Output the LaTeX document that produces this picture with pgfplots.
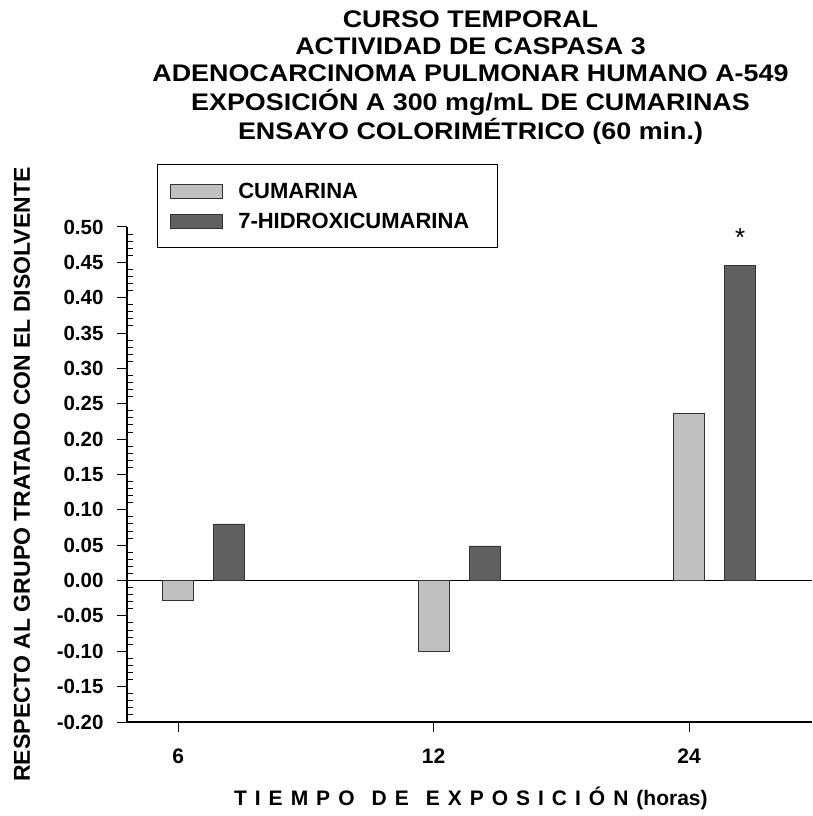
\documentclass[border=0pt]{standalone}
\usepackage{fontspec}
\setmainfont{Liberation Sans}
\usepackage{graphicx}
\usepackage{pgfplots}
\pgfplotsset{compat=1.18}
\definecolor{lgray}{RGB}{192,192,192}
\definecolor{dgray}{RGB}{96,96,96}
\newcommand{\ls}{\hspace{8bp}}
\newcommand{\ws}{\hspace{17bp}}
\begin{document}
\begin{tikzpicture}
\useasboundingbox (0bp,0bp) rectangle (813bp,816bp);
\node[anchor=north, inner sep=0pt] at (470.5bp,808bp) {\scalebox{1.12}[1]{\fontsize{24bp}{27bp}\selectfont\bfseries\begin{tabular}{@{}c@{}}CURSO TEMPORAL\\ACTIVIDAD DE CASPASA 3\\ADENOCARCINOMA PULMONAR HUMANO A-549\\EXPOSICIÓN A 300 mg/mL DE CUMARINAS\\ENSAYO COLORIMÉTRICO (60 min.)\end{tabular}}};
\begin{axis}[
  at={(127bp,94bp)}, anchor=south west,
  scale only axis, width=685bp, height=495bp,
  xmin=-0.2, xmax=2.481, ymin=-0.2, ymax=0.5,
  axis x line=bottom, axis y line=left,
  axis line style={-, line width=1.2bp},
  tick align=outside,
  xtick={0,1,2}, xticklabels={6,12,24},
  ytick={-0.2,-0.15,-0.1,-0.05,0,0.05,0.1,0.15,0.2,0.25,0.3,0.35,0.4,0.45,0.5},
  minor y tick num=4,
  major tick length=10bp, minor tick length=6bp,
  every minor y tick/.append style={xshift=6bp},
  tick style={black, line width=1bp},
  extra y ticks={0}, extra y tick labels={},
  extra y tick style={ymajorgrids=true, major grid style={black, line width=1bp}, major tick length=0pt},
  xticklabel style={font=\fontsize{21bp}{25bp}\selectfont\bfseries, inner ysep=17bp},
  yticklabel style={font=\fontsize{20.5bp}{24bp}\selectfont\bfseries, xshift=-10bp,
    /pgf/number format/.cd, fixed, fixed zerofill, precision=2, assume math mode=true},
  xlabel={T\ls I\ls E\ls M\ls P\ls O\ws D\ls E\ws E\ls X\ls P\ls O\ls S\ls I\ls C\ls I\ls Ó\ls N\ls (horas)},
  xlabel style={at={(axis description cs:0.502,-0.1697)}, anchor=base, font=\fontsize{21bp}{25bp}\selectfont\bfseries},
  ylabel={RESPECTO AL GRUPO TRATADO CON EL DISOLVENTE},
  ylabel style={at={(axis description cs:-0.1533,0.5)}, anchor=center, rotate=0, font=\fontsize{23bp}{27bp}\selectfont\bfseries},
  ybar, bar width=0.12, bar shift=0pt,
  legend style={at={(axis description cs:0.0438,1.127)}, anchor=north west, draw=black, line width=1bp,
    font=\fontsize{22bp}{25bp}\selectfont\bfseries, inner xsep=13bp, inner ysep=19bp, row sep=15bp,
    column sep=15bp,
    nodes={inner sep=0pt, text height=15bp, text depth=0pt}},
  legend cell align=left,
  legend image code/.code={\draw[#1, line width=0.8bp] (0bp,-7bp) rectangle (52bp,7bp);},
]
\addplot[fill=lgray, draw=black!80, line width=0.8bp] coordinates {(0,-0.028) (1,-0.100) (2,0.237)};
\addplot[fill=dgray, draw=black!80, line width=0.8bp] coordinates {(0.2,0.080) (1.2,0.049) (2.2,0.445)};
\legend{CUMARINA, {\makebox[246bp][l]{7-HIDROXICUMARINA}}}
\node[font=\fontsize{26bp}{26bp}\selectfont] at (axis cs:2.2,0.485) {*};
\end{axis}
\end{tikzpicture}
\end{document}
